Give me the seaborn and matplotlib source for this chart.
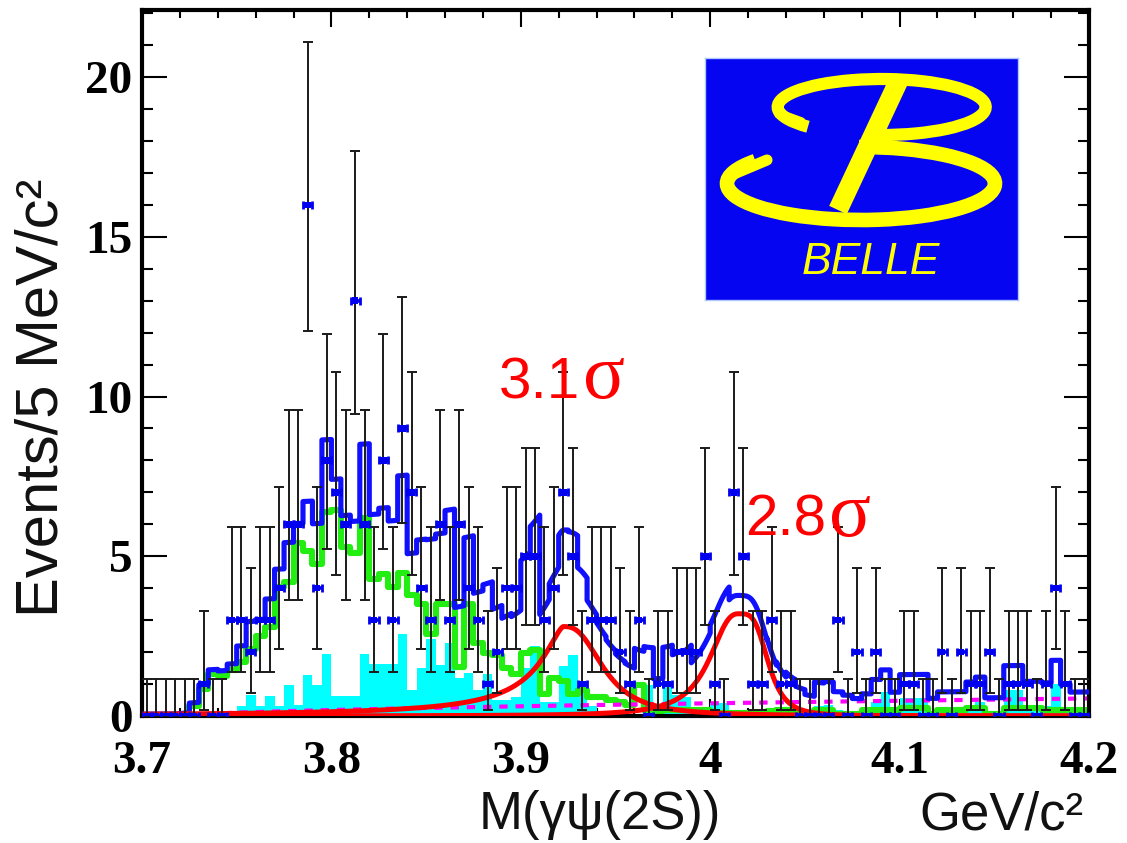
import math
import numpy as np
import pandas as pd
import matplotlib
matplotlib.use("Agg")
import matplotlib.pyplot as plt
from matplotlib.patches import Arc
from matplotlib.lines import Line2D
from matplotlib.ticker import MultipleLocator, FixedLocator
import seaborn as sns

# ---------------- data: M(gamma psi(2S)) in 5 MeV/c^2 bins, 3.70 - 4.20 GeV/c^2 ----------------
mass_lo, mass_hi, bin_width = 3.70, 4.20, 0.005
n_bins = 100
bin_edges = mass_lo + bin_width * np.arange(n_bins + 1)
bin_centers = bin_edges[:-1] + bin_width / 2

events = [
    0, 0, 0, 0, 0, 0, 1, 0, 0, 3,
    3, 2, 3, 3, 4, 6, 6, 16, 4, 8,
    7, 6, 13, 6, 3, 8, 3, 9, 7, 4,
    3, 6, 3, 6, 4, 3, 1, 2, 4, 4,
    5, 5, 3, 4, 7, 5, 1, 3, 3, 3,
    2, 1, 3, 0, 1, 1, 2, 2, 2, 5,
    1, 0, 7, 5, 1, 1, 3, 1, 1, 0,
    0, 0, 0, 3, 0, 2, 0, 2, 0, 0,
    1, 1, 0, 0, 2, 0, 2, 1, 1, 2,
    0, 1, 1, 1, 0, 1, 4, 1, 0, 0,
]

# peaking background component (green histogram)
green_component = [
    0, 0, 0, 0, 0, 0.3, 0.85, 1.3, 1.25, 1.45,
    1.7, 2.1, 2.5, 2.8, 4.05, 4.2, 5.4, 5.15, 4.75, 6.4,
    6.45, 5.3, 5.1, 6.2, 4.28, 4.46, 4.04, 4.48, 3.8, 3.5,
    2.58, 3.52, 3.52, 1.54, 3.52, 2.27, 1.96, 1.9, 1.5, 1.3,
    1.96, 2.06, 0.7, 1.2, 1.1, 0.7, 0.8, 0.6, 0.6, 0.5,
    0.45, 0.35, 0.97, 0.2, 0.15, 0.2, 0.2, 0.2, 0.2, 0.2,
    0.1, 0.1, 0.1, 0.1, 0.1, 0.1, 0.15, 0.2, 0.2, 0.1,
    0.05, 0.2, 0.2, 0.05, 0.05, 0.05, 0.2, 0.2, 0.2, 0.2,
    0.25, 0.25, 0.25, 0.05, 0.2, 0.2, 0.2, 0.25, 0.25, 0.05,
    0.05, 0.25, 0.25, 0.25, 0.25, 0.2, 0.2, 0.2, 0.2, 0.2,
]

# second background component (filled cyan histogram)
cyan_component = [
    0, 0, 0, 0, 0, 0, 0, 0, 0, 0,
    0.3, 0.65, 0.3, 0.63, 0.3, 0.97, 0.35, 1.28, 0.97, 1.93,
    0.63, 0.63, 0.63, 1.93, 1.63, 1.63, 1.63, 2.58, 0.8, 1.5,
    2.4, 1.6, 2.3, 1.2, 1.35, 0.8, 1.3, 0.5, 0.5, 0.6,
    1.5, 2.2, 0.45, 0.45, 1.55, 1.9, 0.8, 0.3, 0.05, 0.05,
    0.0, 0.05, 0.05, 0.97, 0.05, 0.97, 0.67, 0.6, 0.05, 0.05,
    0.4, 0.4, 0.0, 0.0, 0.0, 0.0, 0.0, 0.05, 0.2, 0.1,
    0.0, 0.3, 0.35, 0.2, 0.1, 0.0, 0.0, 0.45, 0.75, 0.05,
    0.55, 0.55, 0.55, 0.0, 0.05, 0.05, 0.05, 0.3, 0.45, 0.0,
    0.0, 0.8, 0.8, 0.3, 0.3, 0.3, 1.0, 0.25, 0.0, 0.0,
]

# two signal line shapes: mass, peak height, and (half width, fall-off power) on each side
peak_mass = [3.9225, 4.0150]
peak_height = [2.8, 3.2]
peak_width_left = [0.0164, 0.0170]
peak_power_left = [1.49, 2.5]
peak_width_right = [0.0225, 0.0161]
peak_power_right = [2.66, 3.8]

# smooth background shape: norm * (M - threshold)^power
bkg_threshold, bkg_norm, bkg_power = 3.72, 0.854, 0.6

significance_text = ["3.1", "2.8"]
ytick_values = [0, 5, 10, 15, 20]
xtick_values = [3.7, 3.8, 3.9, 4.0, 4.1, 4.2]
xtick_labels = ["3.7", "3.8", "3.9", "4", "4.1", "4.2"]


def signal_shape(m, k):
    d = m - peak_mass[k]
    left = 1.0 / (1.0 + np.abs(d / peak_width_left[k]) ** peak_power_left[k])
    right = 1.0 / (1.0 + np.abs(d / peak_width_right[k]) ** peak_power_right[k])
    return peak_height[k] * np.where(d < 0, left, right)


def background_shape(m):
    return bkg_norm * np.clip(m - bkg_threshold, 0, None) ** bkg_power


def poisson_cdf(n, mu):
    if n < 0:
        return 0.0
    k = np.arange(n + 1)
    lg = np.array([math.lgamma(v + 1) for v in k])
    return float(np.sum(np.exp(-mu + k * math.log(mu) - lg))) if mu > 0 else 1.0


def poisson_interval(n):
    """Garwood 68% interval (one-sided for an empty bin)."""
    if n == 0:
        return 0.0, -math.log(1 - 0.6827)
    tail = 0.15866
    a, b = float(n), float(n) + 10 * math.sqrt(n + 1) + 10
    for _ in range(80):
        c = 0.5 * (a + b)
        if poisson_cdf(n, c) > tail:
            a = c
        else:
            b = c
    upper = 0.5 * (a + b)
    a, b = 1e-9, float(n)
    for _ in range(80):
        c = 0.5 * (a + b)
        if 1 - poisson_cdf(n - 1, c) < tail:
            a = c
        else:
            b = c
    lower = 0.5 * (a + b)
    return lower, upper


hist_df = pd.DataFrame({"mass": bin_centers, "green": green_component,
                        "cyan": cyan_component, "events": events})
edge_list = [float(e) for e in bin_edges]

# ---------------- figure ----------------
W, H = 1127, 843
sns.set_style("ticks")
plt.rcParams["font.family"] = ["Liberation Sans", "DejaVu Sans"]
plt.rcParams["axes.linewidth"] = 3.0

fig = plt.figure(figsize=(W / 100, H / 100), dpi=100)


def fpos(x, y):
    return x / W, 1 - y / H


ax = fig.add_axes([142 / W, (H - 716) / H, (1089 - 142) / W, (716 - 10) / H])
ax.set_facecolor("white")

# cyan filled histogram
sns.histplot(data=hist_df, x="mass", weights="cyan", bins=edge_list, element="step",
             fill=True, color="#00FFFF", alpha=1.0, linewidth=0, ax=ax, zorder=1)

# green histogram outline
sns.histplot(data=hist_df, x="mass", weights="green", bins=edge_list, element="step",
             fill=False, color="#22EE11", linewidth=4.4, ax=ax, zorder=2)

# smooth background (magenta dashed)
m_fine = np.linspace(mass_lo, mass_hi, 2001)
sns.lineplot(x=m_fine, y=background_shape(m_fine), color="#FF00FF", linewidth=3.0,
             ax=ax, zorder=2.5, estimator=None, sort=False)
ax.lines[-1].set_linestyle((0, (2.0, 1.9)))

# total fit: stepped components plus smooth shapes, sampled inside each bin
xs, tot = [], []
for i in range(n_bins):
    xx = np.linspace(bin_edges[i], bin_edges[i + 1], 9)
    yy = (green_component[i] + cyan_component[i] + background_shape(xx)
          + signal_shape(xx, 0) + signal_shape(xx, 1))
    xs.append(xx)
    tot.append(yy)
xs = np.concatenate(xs)
tot = np.concatenate(tot)
sns.lineplot(x=xs, y=tot, color="#1010FF", linewidth=3.7, ax=ax, zorder=3,
             estimator=None, sort=False)

# signal curves (red)
for k in range(2):
    sns.lineplot(x=m_fine, y=signal_shape(m_fine, k), color="#FF0000", linewidth=3.6,
                 ax=ax, zorder=4, estimator=None, sort=False)

# data points with Poisson errors
intervals = [poisson_interval(n) for n in events]
ev = np.array(events, dtype=float)
err_lo = ev - np.array([lo for lo, hi in intervals])
err_hi = np.array([hi for lo, hi in intervals]) - ev
ax.errorbar(bin_centers, ev, yerr=[err_lo, err_hi], fmt="none", ecolor="#1a1a1a",
            elinewidth=1.4, capsize=3.4, capthick=1.4, zorder=5)
ax.errorbar(bin_centers, ev, xerr=0.0024, fmt="none", ecolor="#0000EE",
            elinewidth=2.6, capsize=2.6, capthick=2.0, zorder=6)
sns.scatterplot(data=hist_df, x="mass", y="events", marker="s", s=22, color="#0000EE",
                edgecolor="none", ax=ax, zorder=7)

# axes
ax.set_xlim(mass_lo, mass_hi)
ax.set_ylim(0, 22.1)
ax.set_xlabel("")
ax.set_ylabel("")
ax.xaxis.set_major_locator(FixedLocator(xtick_values))
ax.xaxis.set_minor_locator(MultipleLocator(0.02))
ax.yaxis.set_major_locator(FixedLocator(ytick_values))
ax.yaxis.set_minor_locator(MultipleLocator(1))
ax.set_xticklabels(xtick_labels)
ax.set_yticklabels([str(v) for v in ytick_values])
for s in ax.spines.values():
    s.set_visible(True)
    s.set_linewidth(3.0)
    s.set_color("black")
ax.tick_params(axis="both", which="both", direction="in", top=True, right=True,
               width=1.5, color="black")
ax.tick_params(axis="x", which="major", length=12, pad=18)
ax.tick_params(axis="x", which="minor", length=6)
ax.tick_params(axis="y", which="major", length=18, pad=7)
ax.tick_params(axis="y", which="minor", length=8)
for lab in ax.get_xticklabels() + ax.get_yticklabels():
    lab.set_fontfamily("Liberation Serif")
    lab.set_fontweight("bold")
    lab.set_fontsize(34)
    lab.set_color("black")

# axis titles
fig.text(*fpos(42, 398), "Events/5 MeV/c\u00b2", rotation=90, ha="center", va="center",
         fontsize=43, color="#111111")
fig.text(*fpos(600, 815), "M(\u03b3\u03c8(2S))", ha="center", va="center",
         fontsize=38, color="#111111")
fig.text(*fpos(1083, 815), "GeV/c\u00b2", ha="right", va="center",
         fontsize=38, color="#111111")

# significance annotations
fig.text(*fpos(499, 398), significance_text[0], ha="left", va="baseline",
         fontsize=42, color="#FF0000")
fig.text(*fpos(583, 398), "\u03c3", ha="left", va="baseline", fontsize=56,
         color="#FF0000", family="Liberation Serif")
fig.text(*fpos(745, 536), significance_text[1], ha="left", va="baseline",
         fontsize=42, color="#FF0000")
fig.text(*fpos(829, 536), "\u03c3", ha="left", va="baseline", fontsize=56,
         color="#FF0000", family="Liberation Serif")

# experiment logo
lx0, ly0, lw, lh = 705, 58, 313, 242
lax = fig.add_axes([lx0 / W, (H - ly0 - lh) / H, lw / W, lh / H])
lax.set_xlim(0, lw)
lax.set_ylim(0, lh)
lax.set_facecolor("#0505F2")
lax.set_xticks([])
lax.set_yticks([])
for s in lax.spines.values():
    s.set_color("#AFC8FF")
    s.set_linewidth(1.0)
yellow = "#FFFF00"
lax.add_patch(Arc((176.7, 193.0), 208, 56, theta1=-92, theta2=195,
                  color=yellow, linewidth=8.8))
lax.add_patch(Arc((156.0, 116.5), 268, 73, theta1=168, theta2=93,
                  color=yellow, linewidth=10.5))
lax.add_line(Line2D([194, 133], [220, 90], color=yellow, linewidth=14,
                    solid_capstyle="butt"))
lax.add_line(Line2D([74, 96], [186, 178], color=yellow, linewidth=7,
                    solid_capstyle="round"))
lax.add_line(Line2D([24, 62], [124, 140], color=yellow, linewidth=8,
                    solid_capstyle="round"))
lax.text(166, 37, "BELLE", ha="center", va="center", fontsize=32, style="italic",
         color=yellow, family="Liberation Sans")

fig.savefig("out.png", dpi=100)
